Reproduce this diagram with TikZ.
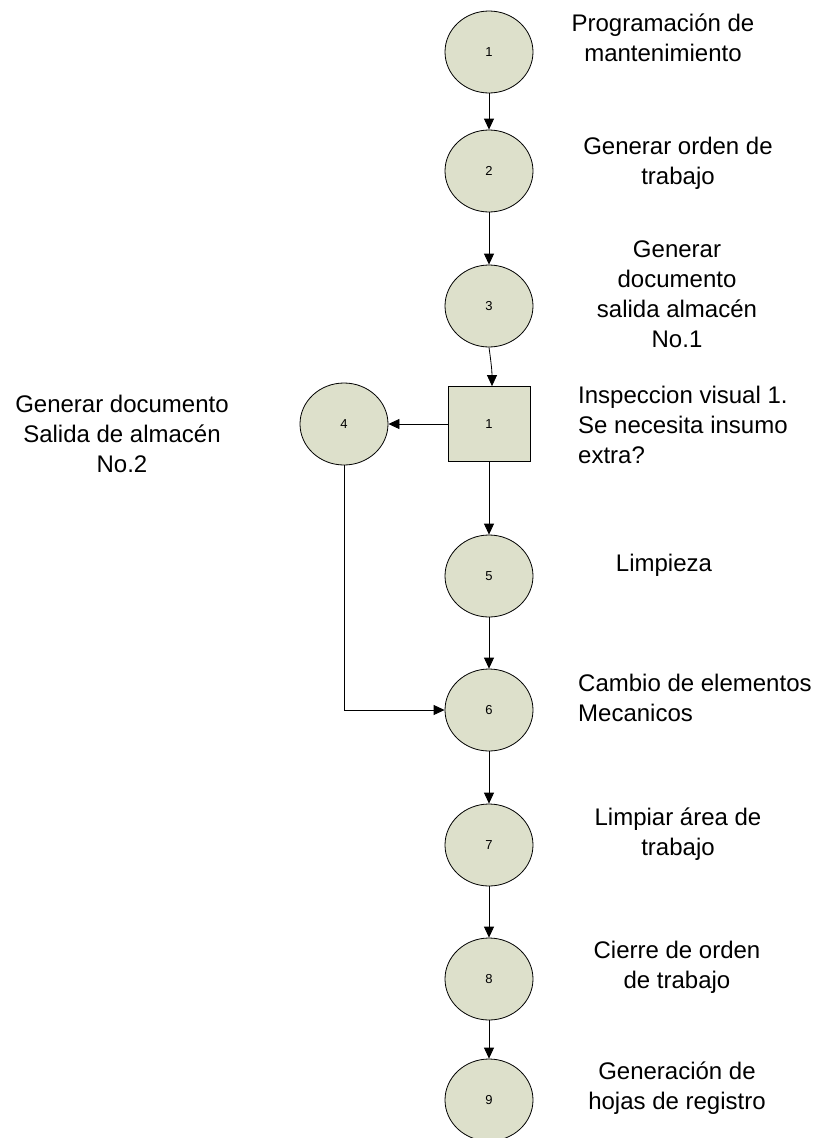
\documentclass[tikz,border=0pt]{standalone}
\usepackage{fontspec}
\setmainfont{Liberation Sans}
\usetikzlibrary{arrows.meta}
\definecolor{nodefill}{RGB}{221,224,203}
\tikzset{
  stepcircle/.style={ellipse, draw=black, line width=0.8pt, fill=nodefill, minimum width=88pt, minimum height=82pt, inner sep=0pt, font=\fontsize{13}{15}\selectfont},
  stepsquare/.style={rectangle, draw=black, line width=0.8pt, fill=nodefill, minimum width=82pt, minimum height=75pt, inner sep=0pt, font=\fontsize{13}{15}\selectfont},
  lbl/.style={inner sep=0pt, font=\fontsize{24}{30}\selectfont},
  arr/.style={draw=black, line width=0.8pt, -{Triangle[length=11pt,width=10pt]}},
  ln/.style={draw=black, line width=0.8pt}
}
\usetikzlibrary{shapes.geometric}
\begin{document}
\begin{tikzpicture}[x=1pt,y=-1pt]
\useasboundingbox (0,0) rectangle (822,1138);
% nodes
\node[stepcircle] (c1) at (489,52) {1};
\node[stepcircle] (c2) at (489,171) {2};
\node[stepcircle] (c3) at (489,306) {3};
\node[stepsquare] (s1) at (489,424) {1};
\node[stepcircle] (c4) at (344,424) {4};
\node[stepcircle] (c5) at (489,576) {5};
\node[stepcircle] (c6) at (489,710) {6};
\node[stepcircle] (c7) at (489,845) {7};
\node[stepcircle] (c8) at (489,979) {8};
\node[stepcircle] (c9) at (489,1100) {9};
% labels
\node[lbl, align=center] (t1) at (663,38) {Programación de\\mantenimiento};
\node[lbl, align=center] (t2) at (678,163) {Generar orden de\\trabajo};
\node[lbl, align=center] (t3) at (677,294) {Generar\\documento\\salida almacén\\No.1};
\node[lbl, align=left, anchor=west] (t4) at (578,425) {Inspeccion visual 1.\\Se necesita insumo\\extra?};
\node[lbl, align=center] (t5) at (122,434) {Generar documento\\Salida de almacén\\No.2};
\node[lbl] (t6) at (664,565) {Limpieza};
\node[lbl, align=left, anchor=west] (t7) at (578,698) {Cambio de elementos\\Mecanicos};
\node[lbl, align=center] (t8) at (678,834) {Limpiar área de\\trabajo};
\node[lbl, align=center] (t9) at (677,967) {Cierre de orden\\de trabajo};
\node[lbl, align=center] (t10) at (677,1088) {Generación de\\hojas de registro};
% connectors
\draw[arr] (c1) -- (c2);
\draw[arr] (c2) -- (c3);
\draw[arr] (c3.south) to[out=-82,in=90] ([xshift=3pt]s1.north);
\draw[arr] (s1.west) -- (c4.east);
\draw[arr] (s1.south) -- (c5.north);
\draw[arr] (c5) -- (c6);
\coordinate (k) at (c4.south |- c6.west);
\draw[ln] (c4.south) -- (k);
\draw[arr] (k) -- (c6.west);
\draw[arr] (c6) -- (c7);
\draw[arr] (c7) -- (c8);
\draw[arr] (c8) -- (c9);
\end{tikzpicture}
\end{document}
